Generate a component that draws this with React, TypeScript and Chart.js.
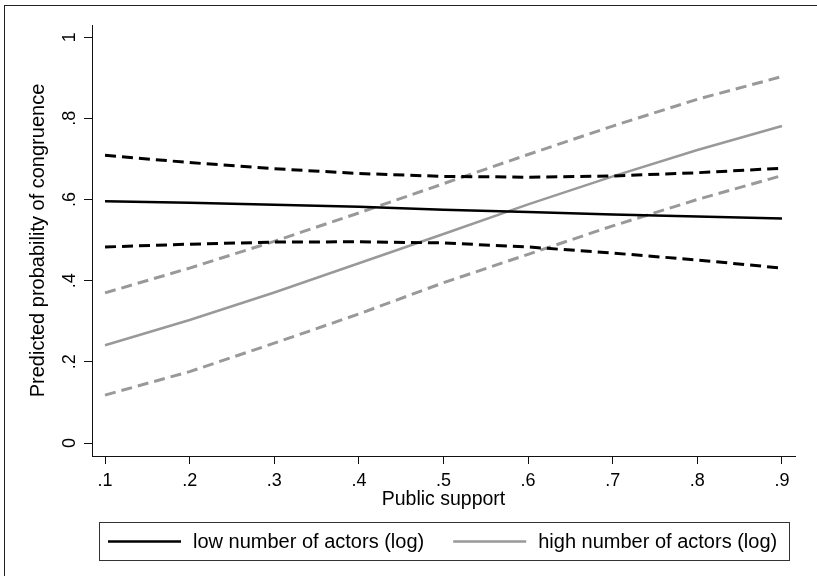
import React, { useEffect, useRef } from 'react';
import { Chart, registerables } from 'chart.js';

Chart.register(...registerables);

// ---- data ----
const PUBLIC_SUPPORT = [0.1, 0.2, 0.3, 0.4, 0.5, 0.6, 0.7, 0.8, 0.9];
const LOW_MEAN = [0.596, 0.592, 0.587, 0.582, 0.575, 0.569, 0.563, 0.558, 0.553];
const LOW_UPPER = [0.709, 0.691, 0.676, 0.664, 0.657, 0.655, 0.658, 0.666, 0.677];
const LOW_LOWER = [0.483, 0.49, 0.495, 0.496, 0.493, 0.483, 0.468, 0.451, 0.431];
const HIGH_MEAN = [0.241, 0.303, 0.371, 0.443, 0.515, 0.588, 0.657, 0.722, 0.781];
const HIGH_UPPER = [0.37, 0.431, 0.497, 0.567, 0.639, 0.711, 0.781, 0.847, 0.903];
const HIGH_LOWER = [0.118, 0.176, 0.246, 0.318, 0.395, 0.465, 0.535, 0.6, 0.659];

const X_TICKS = [0.1, 0.2, 0.3, 0.4, 0.5, 0.6, 0.7, 0.8, 0.9];
const Y_TICKS = [0, 0.2, 0.4, 0.6, 0.8, 1];
const X_MIN = 0.0846;
const X_MAX = 0.9154;
const Y_MIN = -0.032;
const Y_MAX = 1.03;

const LEGEND_LABELS = ['low number of actors (log)', 'high number of actors (log)'];
const X_TITLE = 'Public support';
const Y_TITLE = 'Predicted probability of congruence';

const FONT = '"Liberation Sans", Arial, Helvetica, sans-serif';
const BLACK = '#000000';
const GRAY = '#999999';
const AXIS = '#111111';

const fmt = (v: number) => {
  const s = String(+Number(v).toFixed(2));
  return s.startsWith('0.') ? s.slice(1) : s;
};

const pts = (ys: number[]) => PUBLIC_SUPPORT.map((x, i) => ({ x, y: ys[i] }));

const decor = {
  id: 'decor',
  beforeDraw(chart: any) {
    const ctx = chart.ctx;
    ctx.save();
    ctx.fillStyle = '#ffffff';
    ctx.fillRect(0, 0, chart.width, chart.height);
    ctx.restore();
  },
  afterDraw(chart: any) {
    const ctx = chart.ctx;
    const ys = chart.scales.y;
    ctx.save();
    // outer frame
    ctx.strokeStyle = '#222222';
    ctx.lineWidth = 1;
    ctx.strokeRect(4.5, 5.5, 1000, 1000);

    // rotated y tick labels
    ctx.fillStyle = '#000';
    ctx.font = `18px ${FONT}`;
    ctx.textAlign = 'center';
    ctx.textBaseline = 'middle';
    Y_TICKS.forEach((v) => {
      const py = ys.getPixelForValue(v);
      ctx.save();
      ctx.translate(70, py);
      ctx.rotate(-Math.PI / 2);
      ctx.fillText(fmt(v), 0, 0);
      ctx.restore();
    });

    // legend
    const boxL = 99.5, boxT = 522.5, boxR = 789.5, boxB = 560.5;
    ctx.strokeStyle = '#333333';
    ctx.lineWidth = 1;
    ctx.strokeRect(boxL, boxT, boxR - boxL, boxB - boxT);
    const cy = (boxT + boxB) / 2;
    ctx.font = `20px ${FONT}`;
    ctx.textAlign = 'left';
    const colors = [BLACK, GRAY];
    let x = boxL + 8.5;
    LEGEND_LABELS.forEach((lab, i) => {
      ctx.strokeStyle = colors[i];
      ctx.lineWidth = 2.5;
      ctx.beginPath();
      ctx.moveTo(x, cy);
      ctx.lineTo(x + 73, cy);
      ctx.stroke();
      ctx.fillStyle = '#000';
      ctx.fillText(lab, x + 85, cy + 1);
      x = x + 85 + ctx.measureText(lab).width + 29;
    });
    ctx.restore();
  },
};

export default function App() {
  const ref = useRef<HTMLCanvasElement | null>(null);
  useEffect(() => {
    if (!ref.current) return;
    const ds = (label: string, ys: number[], color: string, dashed: boolean) => ({
      label,
      data: pts(ys),
      borderColor: color,
      backgroundColor: color,
      borderWidth: dashed ? 3 : 2.5,
      borderDash: dashed ? [11, 6] : [],
      pointRadius: 0,
      tension: 0,
      fill: false,
    });
    const chart = new Chart(ref.current, {
      type: 'line',
      data: {
        datasets: [
          ds(LEGEND_LABELS[0], LOW_MEAN, BLACK, false),
          ds('low upper', LOW_UPPER, BLACK, true),
          ds('low lower', LOW_LOWER, BLACK, true),
          ds(LEGEND_LABELS[1], HIGH_MEAN, GRAY, false),
          ds('high upper', HIGH_UPPER, GRAY, true),
          ds('high lower', HIGH_LOWER, GRAY, true),
        ],
      },
      options: {
        responsive: false,
        animation: false,
        devicePixelRatio: 1,
        layout: { padding: { left: 0, top: 25, right: 22, bottom: 60 } },
        plugins: { legend: { display: false }, tooltip: { enabled: false } },
        scales: {
          x: {
            type: 'linear',
            min: X_MIN,
            max: X_MAX,
            afterBuildTicks: (s: any) => {
              s.ticks = X_TICKS.map((v) => ({ value: v }));
            },
            afterFit: (s: any) => {
              s.height = 60;
            },
            ticks: {
              autoSkip: false,
              maxRotation: 0,
              minRotation: 0,
              padding: 6,
              color: '#000',
              font: { family: FONT, size: 18 },
              callback: (v: any) => fmt(v),
            },
            grid: { drawOnChartArea: false, drawTicks: true, tickLength: 8, color: AXIS, lineWidth: 1 },
            border: { display: true, color: AXIS, width: 1 },
            title: {
              display: true,
              text: X_TITLE,
              color: '#000',
              font: { family: FONT, size: 19.5 },
              padding: { top: 0, bottom: 5 },
            },
          },
          y: {
            type: 'linear',
            min: Y_MIN,
            max: Y_MAX,
            afterBuildTicks: (s: any) => {
              s.ticks = Y_TICKS.map((v) => ({ value: v }));
            },
            afterFit: (s: any) => {
              s.width = 92;
            },
            ticks: { display: false },
            grid: { drawOnChartArea: false, drawTicks: true, tickLength: 8, color: AXIS, lineWidth: 1 },
            border: { display: true, color: AXIS, width: 1 },
            title: {
              display: true,
              text: Y_TITLE,
              color: '#000',
              font: { family: FONT, size: 20 },
              padding: { top: 26, bottom: 0 },
            },
          },
        },
      },
      plugins: [decor],
    } as any);
    return () => chart.destroy();
  }, []);
  return (
    <div style={{ position: 'absolute', left: 0, top: 0, width: 817, height: 576, background: '#fff' }}>
      <canvas ref={ref} width={817} height={576} style={{ display: 'block', width: 817, height: 576 }} />
    </div>
  );
}
